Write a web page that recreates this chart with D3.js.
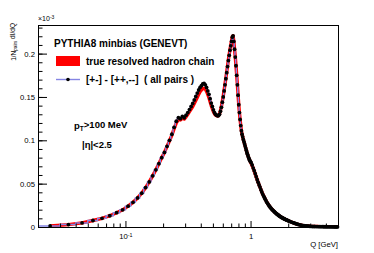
<!DOCTYPE html>
<html>
<head>
<meta charset="utf-8">
<script src="https://cdn.jsdelivr.net/npm/d3@7"></script>
<style>
  body { margin: 0; background: #fff; }
  svg { display: block; font-family: "Liberation Sans", Arial, Helvetica, sans-serif; }
</style>
</head>
<body>
<div id="graph"><svg></svg></div>
<script>
// ---- data (values in units of 10^-3) ----
// all pairs [+-] - [++,--]: bins of 0.01 GeV up to 1 GeV
let allPairsA = [
  0.0012, 0.0028, 0.0047, 0.0075, 0.0100, 0.0130, 0.0165, 0.0198, 0.0240, 0.0285,
  0.0335, 0.0390, 0.0455, 0.0520, 0.0590, 0.0660, 0.0730, 0.0800, 0.0860, 0.0930,
  0.1000, 0.1070, 0.1150, 0.1220, 0.1260, 0.1250, 0.1275, 0.1260, 0.1290, 0.1320,
  0.1355, 0.1390, 0.1425, 0.1465, 0.1505, 0.1545, 0.1580, 0.1610, 0.1630, 0.1650,
  0.1655, 0.1640, 0.1610, 0.1570, 0.1530, 0.1480, 0.1430, 0.1390, 0.1350, 0.1320,
  0.1300, 0.1290, 0.1283, 0.1285, 0.1300, 0.1335, 0.1380, 0.1440, 0.1500, 0.1570,
  0.1640, 0.1710, 0.1780, 0.1850, 0.1920, 0.1980, 0.2040, 0.2090, 0.2140, 0.2190,
  0.2205, 0.2140, 0.2050, 0.1960, 0.1860, 0.1750, 0.1640, 0.1520, 0.1410, 0.1320,
  0.1240, 0.1170, 0.1110, 0.1070, 0.1040, 0.1010, 0.0985, 0.0960, 0.0935, 0.0910,
  0.0885, 0.0860, 0.0840, 0.0820, 0.0800, 0.0785, 0.0770, 0.0755
];
// 1 - 2 GeV, bins of 0.02
let allPairsB = [
  0.0745, 0.0715, 0.0680, 0.0650, 0.0615, 0.0580, 0.0545, 0.0515, 0.0485, 0.0460,
  0.0430, 0.0405, 0.0380, 0.0360, 0.0340, 0.0320, 0.0302, 0.0285, 0.0270, 0.0256,
  0.0243, 0.0231, 0.0220, 0.0210, 0.0200, 0.0192, 0.0184, 0.0176, 0.0168, 0.0161,
  0.0154, 0.0148, 0.0142, 0.0136, 0.0130, 0.0125, 0.0120, 0.0115, 0.0111, 0.0107,
  0.0103, 0.0099, 0.0096, 0.0092, 0.0089, 0.0086, 0.0083, 0.0080, 0.0077, 0.0074
];
// 2 - 3 GeV, bins of 0.05
let allPairsC = [
  0.0069, 0.0063, 0.0057, 0.0051, 0.0046, 0.0041, 0.0036, 0.0032, 0.0028, 0.0025,
  0.0022, 0.0019, 0.0017, 0.0015, 0.0013, 0.0012, 0.0011, 0.0010, 0.0009, 0.0008
];
// 3 - 5 GeV, bins of 0.1
let allPairsD = [
  0.0007, 0.0006, 0.0006, 0.0005, 0.0005, 0.0004, 0.0004, 0.0004, 0.0003, 0.0003,
  0.0003, 0.0002, 0.0002, 0.0002, 0.0002, 0.0002, 0.0001, 0.0001, 0.0001, 0.0001
];

// true resolved hadron chain: bins of 0.01 up to 1 GeV, then 0.1
let trueChainA = [
  0.0012, 0.0028, 0.0047, 0.0075, 0.0100, 0.0130, 0.0165, 0.0198, 0.0240, 0.0285,
  0.0335, 0.0390, 0.0455, 0.0520, 0.0590, 0.0660, 0.0730, 0.0800, 0.0860, 0.0930,
  0.0995, 0.1060, 0.1135, 0.1200, 0.1240, 0.1235, 0.1255, 0.1245, 0.1270, 0.1300,
  0.1330, 0.1360, 0.1390, 0.1425, 0.1460, 0.1495, 0.1530, 0.1560, 0.1580, 0.1595,
  0.1600, 0.1590, 0.1565, 0.1530, 0.1490, 0.1445, 0.1400, 0.1365, 0.1330, 0.1305,
  0.1290, 0.1285, 0.1280, 0.1285, 0.1305, 0.1345, 0.1390, 0.1450, 0.1510, 0.1580,
  0.1650, 0.1720, 0.1790, 0.1860, 0.1930, 0.1990, 0.2050, 0.2100, 0.2150, 0.2195,
  0.2205, 0.2140, 0.2050, 0.1960, 0.1860, 0.1750, 0.1640, 0.1520, 0.1410, 0.1320,
  0.1240, 0.1170, 0.1110, 0.1070, 0.1040, 0.1010, 0.0985, 0.0960, 0.0935, 0.0910,
  0.0885, 0.0860, 0.0840, 0.0820, 0.0800, 0.0785, 0.0770, 0.0755
];
let trueChainTail = [
  0.0680, 0.0515, 0.0380, 0.0285, 0.0220, 0.0176, 0.0142, 0.0115, 0.0096, 0.0080,
  0.0066, 0.0054, 0.0043, 0.0034, 0.0027, 0.0021, 0.0016, 0.0013, 0.0011, 0.0009,
  0.0007, 0.0006, 0.0006, 0.0005, 0.0005, 0.0004, 0.0004, 0.0004, 0.0003, 0.0003,
  0.0003, 0.0002, 0.0002, 0.0002, 0.0002, 0.0002, 0.0001, 0.0001, 0.0001, 0.0001
];

let yMajorTicks = [0, 0.05, 0.1, 0.15, 0.2];
let xMajorTicks = [0.1, 1];
let xMinorTicks = [0.02, 0.03, 0.04, 0.05, 0.06, 0.07, 0.08, 0.09,
  0.2, 0.3, 0.4, 0.5, 0.6, 0.7, 0.8, 0.9, 2, 3, 4, 5];

// histogram bins: first edge + width for each block
function bins(lo, width, values) {
  return values.map((v, i) => ({
    lo: lo + i * width,
    hi: lo + (i + 1) * width,
    q: lo + (i + 0.5) * width,
    v: v
  }));
}

let allPairs = []
  .concat(bins(0.02, 0.01, allPairsA))
  .concat(bins(1.0, 0.02, allPairsB))
  .concat(bins(2.0, 0.05, allPairsC))
  .concat(bins(3.0, 0.1, allPairsD));

let trueChain = []
  .concat(bins(0.02, 0.01, trueChainA))
  .concat(bins(1.0, 0.1, trueChainTail));

// ---- layout ----
let margins = { top: 25, right: 36, bottom: 26, left: 38 };
let outerWidth = 374;
let outerHeight = 253;
let innerWidth = outerWidth - margins.left - margins.right;
let innerHeight = outerHeight - margins.top - margins.bottom;

let root = d3.select("div#graph svg")
  .attr("width", outerWidth)
  .attr("height", outerHeight);

let svg = root.append("g")
  .attr("transform", "translate(" + margins.left + "," + margins.top + ")");

let xScale = d3.scaleLog().domain([0.02, 5]).range([0, innerWidth]);
let yScale = d3.scaleLinear().domain([0, 0.233]).range([innerHeight, 0]);

svg.append("clipPath").attr("id", "plotclip")
  .append("rect").attr("width", innerWidth).attr("height", innerHeight);

// red band: true resolved hadron chain
svg.append("path")
  .datum(trueChain)
  .attr("clip-path", "url(#plotclip)")
  .attr("fill", "none")
  .attr("stroke", "#ff0000")
  .attr("stroke-width", 3.4)
  .attr("stroke-linejoin", "round")
  .attr("d", d3.line().x(d => xScale(d.q)).y(d => yScale(d.v)));

// blue histogram line: all pairs
let steps = [];
allPairs.forEach(d => { steps.push([d.lo, d.v]); steps.push([d.hi, d.v]); });
svg.append("path")
  .datum(steps)
  .attr("clip-path", "url(#plotclip)")
  .attr("fill", "none")
  .attr("stroke", "#8585e3")
  .attr("stroke-width", 1.4)
  .attr("d", d3.line().x(d => xScale(d[0])).y(d => yScale(d[1])));

// black markers
svg.append("g")
  .selectAll("circle")
  .data(allPairs)
  .join("circle")
  .attr("cx", d => xScale(d.q))
  .attr("cy", d => yScale(d.v))
  .attr("r", 1.9)
  .attr("fill", "#000");

// ---- axes ----
let yAxis = svg.append("g")
  .style("font-size", "7.7px")
  .call(d3.axisLeft(yScale).tickValues(yMajorTicks).tickSize(-9).tickPadding(3)
    .tickFormat(d => d === 0 ? "0" : String(d)));
yAxis.select(".domain").remove();
yAxis.selectAll("text").attr("fill", "#000").attr("font-family", "Liberation Sans, Arial");

let yMinor = svg.append("g")
  .call(d3.axisLeft(yScale).tickValues(d3.range(0, 0.235, 0.01)).tickSize(-4.5).tickFormat(""));
yMinor.select(".domain").remove();
yMinor.selectAll("text").remove();

let xAxis = svg.append("g")
  .attr("transform", "translate(0," + innerHeight + ")")
  .style("font-size", "7.7px")
  .call(d3.axisBottom(xScale).tickValues(xMajorTicks).tickSize(-6).tickPadding(6.5)
    .tickFormat(d => d === 1 ? "1" : "10"));
xAxis.select(".domain").remove();
xAxis.selectAll("text").attr("fill", "#000").attr("font-family", "Liberation Sans, Arial")
  .each(function (d) {
    if (d === 0.1) {
      d3.select(this).append("tspan").attr("dy", "-0.45em").style("font-size", "5.4px").text("-1");
    }
  });

let xMinor = svg.append("g")
  .attr("transform", "translate(0," + innerHeight + ")")
  .call(d3.axisBottom(xScale).tickValues(xMinorTicks).tickSize(-3.5).tickFormat(""));
xMinor.select(".domain").remove();
xMinor.selectAll("text").remove();

// frame
svg.append("rect")
  .attr("x", 0.5).attr("y", 0.5)
  .attr("width", innerWidth).attr("height", innerHeight)
  .attr("fill", "none").attr("stroke", "#000").attr("stroke-width", 1);

// axis titles
svg.append("text")
  .attr("x", innerWidth)
  .attr("y", innerHeight + 20)
  .attr("text-anchor", "end")
  .style("font-size", "7.7px")
  .text("Q [GeV]");

let ytitle = root.append("text")
  .attr("transform", "translate(16,23) rotate(-90)")
  .attr("text-anchor", "end")
  .style("font-size", "6.5px");
ytitle.append("tspan").text("1/N");
ytitle.append("tspan").attr("dy", "0.3em").style("font-size", "4.6px").text("pairs");
ytitle.append("tspan").attr("dy", "-0.3em").text(" dI/dQ");

let expo = root.append("text")
  .attr("x", 38).attr("y", 21)
  .style("font-size", "7px");
expo.append("tspan").text("\u00d710");
expo.append("tspan").attr("dy", "-0.45em").style("font-size", "5px").text("-3");

// ---- legend ----
let legend = root.append("g").style("font-weight", "bold").style("font-size", "10px");
legend.append("text").attr("x", 54).attr("y", 47).text("PYTHIA8 minbias (GENEVT)");
legend.append("rect").attr("x", 56).attr("y", 56).attr("width", 24).attr("height", 10).attr("fill", "#ff0000");
legend.append("text").attr("x", 86).attr("y", 65).text("true resolved hadron chain");
legend.append("line").attr("x1", 56).attr("x2", 80).attr("y1", 79.5).attr("y2", 79.5)
  .attr("stroke", "#8585e3").attr("stroke-width", 1.4);
legend.append("circle").attr("cx", 68).attr("cy", 79.5).attr("r", 1.8).attr("fill", "#000");
legend.append("text").attr("x", 86).attr("y", 83).style("white-space", "pre")
  .text("[+-] - [++,--]  ( all pairs )");

let cuts = root.append("g").style("font-weight", "bold").style("font-size", "9.5px");
let pt = cuts.append("text").attr("x", 74).attr("y", 129);
pt.append("tspan").text("p");
pt.append("tspan").attr("dy", "0.3em").style("font-size", "6.5px").text("T");
pt.append("tspan").attr("dy", "-0.3em").text(">100 MeV");
cuts.append("text").attr("x", 82).attr("y", 148).text("|\u03b7|<2.5");
</script>
</body>
</html>
